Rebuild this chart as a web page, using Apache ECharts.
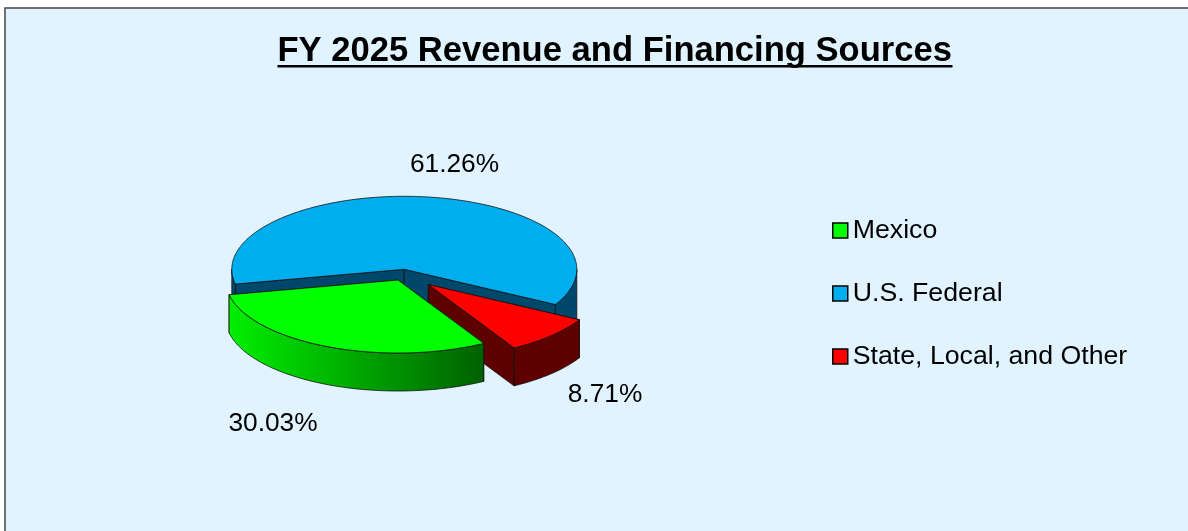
<!DOCTYPE html>
<html>
<head>
<meta charset="utf-8">
<style>
html, body { margin: 0; padding: 0; background: #fff; }
#main { width: 1188px; height: 531px; }
</style>
<script src="https://cdn.jsdelivr.net/npm/echarts@6/dist/echarts.min.js"></script>
</head>
<body>
<div id="main"></div>
<script>
var categories = ['Mexico', 'U.S. Federal', 'State, Local, and Other'];
var shares = [30.03, 61.26, 8.71];

// colours per slice
var topColors = ['#00ff00', '#00adef', '#ff0000'];
var sideColors = ['#00a000', '#00486b', '#5e0000'];

// flattened pie: centre, radii, first slice angle (clockwise from east)
var pie = { cx: 404.3, cy: 269.3, rx: 172.5, ry: 73, start: 60.2 };
// wall height per slice, the back slice looks a bit taller at its right edge
var depths = [38, 49, 38];
// exploded slices are shifted on screen
var shiftX = [-6.3, 0, 24];
var shiftY = [10.7, 0, 15.2];
var labelX = [273, 454.5, 605];
var labelY = [424, 165, 395];
// painter's order, back to front
var drawOrder = [1, 2, 0];

var FONT = '"Liberation Sans", Arial, sans-serif';
var chart = echarts.init(document.getElementById('main'));

function slicePoint(i, deg, down) {
    var r = deg * Math.PI / 180;
    return [
        pie.cx + shiftX[i] + pie.rx * Math.cos(r),
        pie.cy + shiftY[i] + pie.ry * Math.sin(r) + down
    ];
}

function arcPoints(i, from, to, down) {
    var pts = [];
    var n = Math.max(2, Math.ceil(Math.abs(to - from)));
    for (var k = 0; k <= n; k++) {
        pts.push(slicePoint(i, from + (to - from) * k / n, down));
    }
    return pts;
}

function poly(points, fill) {
    return {
        type: 'polygon',
        shape: { points: points },
        style: { fill: fill, stroke: '#111', lineWidth: 0.8 }
    };
}

function makeRender(i) {
    return function (params, api) {
        var a0 = pie.start;
        for (var k = 0; k < i; k++) {
            a0 += shares[k] * 3.6;
        }
        var a1 = a0 + api.value(0) * 3.6;
        var cx = pie.cx + shiftX[i];
        var cy = pie.cy + shiftY[i];
        var d = depths[i];
        var children = [];

        // cut faces
        [a0, a1].forEach(function (a) {
            var e = slicePoint(i, a, 0);
            children.push(poly([[cx, cy], e, [e[0], e[1] + d], [cx, cy + d]], sideColors[i]));
        });

        // outer wall, only the parts turned to the viewer
        var fill = sideColors[i];
        if (i === 0) {
            fill = new echarts.graphic.LinearGradient(0, 0, 1, 0, [
                { offset: 0, color: '#00f000' },
                { offset: 1, color: '#006000' }
            ]);
        }
        [[0, 180], [360, 540]].forEach(function (span) {
            var from = Math.max(a0, span[0]);
            var to = Math.min(a1, span[1]);
            if (from < to) {
                var upper = arcPoints(i, from, to, 0);
                var lower = arcPoints(i, to, from, d);
                children.push(poly(upper.concat(lower), fill));
            }
        });

        // top face
        children.push(poly([[cx, cy]].concat(arcPoints(i, a0, a1, 0)), topColors[i]));

        children.push({
            type: 'text',
            style: {
                text: api.value(0).toFixed(2) + '%',
                x: labelX[i],
                y: labelY[i],
                align: 'center',
                verticalAlign: 'middle',
                fill: '#000',
                font: '26.3px ' + FONT
            }
        });
        return { type: 'group', children: children };
    };
}

var seriesList = drawOrder.map(function (i) {
    return {
        type: 'custom',
        name: categories[i],
        coordinateSystem: 'none',
        silent: true,
        animation: false,
        itemStyle: { color: topColors[i] },
        data: [[shares[i]]],
        renderItem: makeRender(i)
    };
});

var option = {
    animation: false,
    backgroundColor: '#ffffff',
    title: {
        text: 'FY 2025 Revenue and Financing Sources',
        left: 277.5,
        top: 33.5,
        padding: 0,
        textStyle: { fontFamily: FONT, fontSize: 34.6, fontWeight: 'bold', color: '#000' }
    },
    legend: {
        data: categories,
        orient: 'vertical',
        left: 832,
        top: 217,
        padding: 0,
        icon: 'rect',
        itemWidth: 15,
        itemHeight: 15,
        itemGap: 36,
        selectedMode: false,
        itemStyle: { borderColor: '#000', borderWidth: 1.5 },
        textStyle: { fontFamily: FONT, fontSize: 26.7, color: '#000' }
    },
    graphic: [
        {
            type: 'rect',
            z: -10,
            silent: true,
            shape: { x: 5, y: 8, width: 1190, height: 530 },
            style: { fill: '#e0f3ff', stroke: '#444', lineWidth: 1.5 }
        },
        {
            type: 'rect',
            silent: true,
            shape: { x: 277.5, y: 65, width: 675, height: 2.5 },
            style: { fill: '#000' }
        }
    ],
    series: seriesList
};
chart.setOption(option);
</script>
</body>
</html>
